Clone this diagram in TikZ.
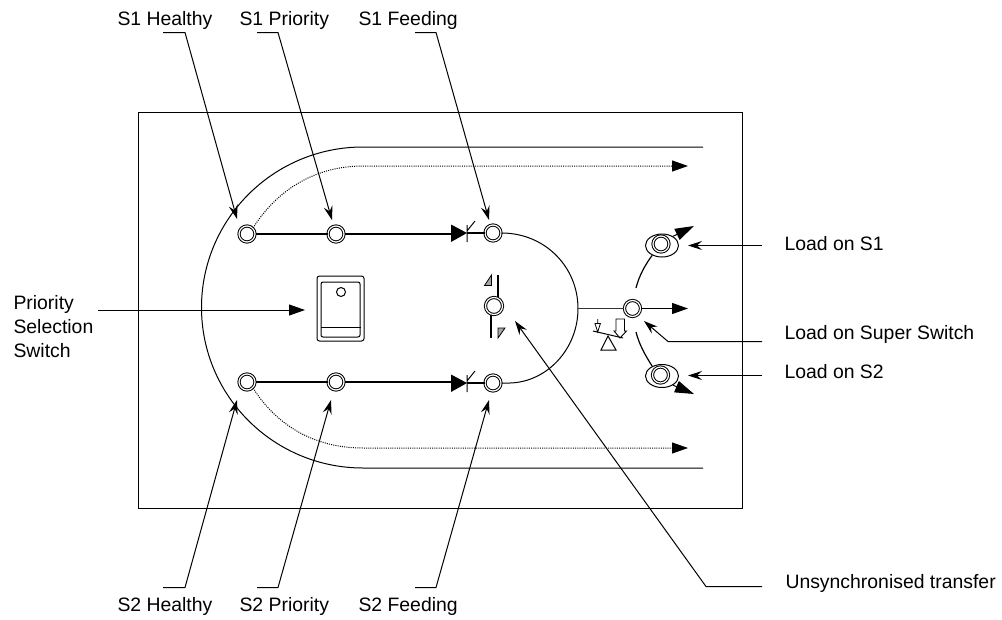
\documentclass[tikz,border=0pt]{standalone}
\usepackage{fontspec}
\setmainfont{Liberation Sans}
\usetikzlibrary{arrows.meta}
\usetikzlibrary{shapes.geometric}

\tikzset{
	lamp/.style={circle, draw, fill=white, inner sep=0pt, minimum size=16pt, line width=1pt, double=white, double distance=1.2pt},
	bigeye/.style={ellipse, draw, fill=white, inner sep=0pt, minimum width=33pt, minimum height=23pt, line width=1pt},
	smalllamp/.style={lamp, minimum size=13pt},
	caption/.style={anchor=west, inner sep=0pt, align=left, font=\fontsize{19.4}{23.6}\selectfont},
	leader/.style={-{Stealth[length=14pt,width=9pt,inset=5pt]}, line width=1pt},
	feed/.style={-{Triangle[length=16pt,width=11pt]}, line width=1.2pt},
	mainbar/.style={line width=2pt},
	dotline/.style={-{Triangle[length=16pt,width=11pt]}, line width=1pt, dash pattern=on 1pt off 1.2pt}
}

\begin{document}
\begin{tikzpicture}[x=1pt, y=-1pt, line width=1pt]
	\useasboundingbox (0,0) rectangle (1002,619);

	% Frame
	\draw[line width=1.1pt] (138.5,112.5) rectangle (742.5,508.5);

	% Lamps
	\node[lamp] (healthyA) at (247,234) {};
	\node[lamp] (priorityA) at (336,234) {};
	\node[lamp] (feedingA) at (493,233) {};
	\node[lamp] (healthyB) at (247,382) {};
	\node[lamp] (priorityB) at (336,382) {};
	\node[lamp] (feedingB) at (493,383) {};
	\node[lamp] (superSw) at (632.5,308.5) {};
	\node[smalllamp, minimum height=15pt, minimum width=17pt] (transfer) at (494,306) {};

	% Outer source lines
	\coordinate (endA) at (703,147);
	\coordinate (endB) at (703,468);
	\draw (endA) -- (363,147) .. controls (273.8,147) and (201.5,218.9) .. (201.5,307.5)
		.. controls (201.5,396.1) and (273.8,468) .. (363,468) -- (endB);

	% Dotted lines
	\coordinate (dotA) at (688,166);
	\coordinate (dotB) at (688,448);
	\draw[dotline] (healthyA.north east) .. controls (277,190) and (315,166) .. (363,166) -- (dotA);
	\draw[dotline] (healthyB.south east) .. controls (277,426) and (315,448) .. (363,448) -- (dotB);

	% Diodes
	\coordinate (diodeA) at (451,233);
	\coordinate (diodeB) at (451,383);
	\draw[mainbar] (healthyA) -- (priorityA);
	\draw[mainbar] (priorityA.east) -- (diodeA |- priorityA);
	\draw[mainbar] (healthyB) -- (priorityB);
	\draw[mainbar] (priorityB.east) -- (diodeB |- priorityB);
	\fill (451,224.5) -- (467,233) -- (451,242) -- cycle;
	\fill (451,374.5) -- (467,383) -- (451,392) -- cycle;
	\draw (467,225) -- (467,242) (467,231) -- (475,221);
	\draw (467,375) -- (467,392) (467,381) -- (475,371);
	\draw[line width=1.4pt] (467,233) -- (feedingA.west);
	\draw[line width=1.4pt] (467,383) -- (feedingB.west);

	% Return loop
	\coordinate (junction) at (578,308.5);
	\draw (feedingA.east) .. controls (545,233) and (578,267) .. (junction)
		.. controls (578,349) and (547,382) .. (510,383) -- (feedingB.east);
	\draw[line width=1.2pt, black!80] (junction) -- (superSw);
	\coordinate (outTip) at (688,308.5);
	\draw[feed, black] (superSw) -- (outTip);

	% Priority switch
	\node[draw, rounded corners=2.5pt, minimum width=47pt, minimum height=65pt, inner sep=0pt] (swOuter) at (340.5,308.5) {};
	\node[draw, rounded corners=2pt, minimum width=39pt, minimum height=55pt, inner sep=0pt] (swInner) at (340.5,309.5) {};
	\node[draw, circle, minimum size=9pt, inner sep=0pt] (swDot) at (341,292) {};
	\draw (swInner.west |- 0,327) -- (swInner.east |- 0,327);

	% Transfer flags
	\draw[line width=1.1pt] (transfer.south -| 491,0) -- (491,338);
	\draw[line width=1.1pt] (transfer.north -| 498,0) -- (498,275);
	\draw[line width=0.8pt, fill=black!35] (491.5,275) -- (484.5,285.5) -- (491.5,285.5) -- cycle;
	\draw[line width=0.8pt, fill=black!35] (498,328) -- (505,328) -- (498,338) -- cycle;

	% Load eyes
	\node[bigeye] (eyeA) at (662,245.5) {};
	\node[smalllamp, minimum size=16pt] (lampA) at (661,244) {};
	\node[bigeye] (eyeB) at (662,376) {};
	\node[smalllamp, minimum size=16pt] (lampB) at (660.5,375) {};
	\coordinate (tipA) at (694,226);
	\coordinate (tipB) at (694,394);
	\coordinate (curveA) at (636,288);
	\coordinate (curveB) at (636,332);
	\draw[-{Triangle[length=19pt,width=12pt]}] (eyeA.40) -- (tipA);
	\draw[-{Triangle[length=19pt,width=12pt]}] (eyeB.-40) -- (tipB);
	\draw[line width=1.2pt] (curveA) .. controls (639,276) and (645,265) .. (eyeA.225);
	\draw[line width=1.2pt] (curveB) .. controls (639,344) and (645,355) .. (eyeB.135);

	% Balance symbol
	\draw (593,331) -- (623,338);
	\draw (608,336) -- (601,350) -- (616,350) -- cycle;
	\draw[line width=0.8pt] (597.7,319) -- (597.7,323.5) (595,323.5) -- (600.4,323.5) -- (597.7,332) -- cycle;
	\draw[line width=0.9pt] (616,319) -- (624.5,319) -- (624.5,331) -- (626.5,331) -- (620,338) -- (614,331) -- (616,331) -- cycle;

	% Top captions
	\node[caption] (capHealthyA) at (117,20) {S1 Healthy};
	\node[caption] (capPriorityA) at (239,20) {S1 Priority};
	\node[caption] (capFeedingA) at (358,20) {S1 Feeding};
	\draw[leader] (163,32.5) -- (185,32.5) -- (237,219);
	\draw[leader] (257,32.5) -- (278,32.5) -- (332,220);
	\draw[leader] (415,32.5) -- (436,32.5) -- (489,220);

	% Bottom captions
	\node[caption] (capHealthyB) at (117,606) {S2 Healthy};
	\node[caption] (capPriorityB) at (239,606) {S2 Priority};
	\node[caption] (capFeedingB) at (358,606) {S2 Feeding};
	\draw[leader] (163,587.5) -- (185,587.5) -- (237,400);
	\draw[leader] (257,587.5) -- (278,587.5) -- (331,400);
	\draw[leader] (415,587.5) -- (436,587.5) -- (489,400);

	% Left caption
	\node[caption] (capSwitch) at (13,326.5) {Priority\\Selection\\Switch};
	\coordinate (switchStart) at (98,310);
	\coordinate (switchTip) at (305,310);
	\draw[feed, line width=1pt] (switchStart) -- (switchTip);

	% Right captions
	\node[caption] (capLoadA) at (784,244) {Load on S1};
	\node[caption] (capLoadSw) at (784,334) {Load on Super Switch};
	\node[caption] (capLoadB) at (784,372) {Load on S2};
	\node[caption] (capTransfer) at (785,583) {Unsynchronised transfer};
	\draw[leader] (762,245.5) -- (688,245.5);
	\draw[leader] (762,341.5) -- (668,341.5) -- (644,321);
	\draw[leader] (762,375.5) -- (688,375.5);
	\draw[leader] (762,586.5) -- (706,586.5) -- (515,321);
\end{tikzpicture}
\end{document}
